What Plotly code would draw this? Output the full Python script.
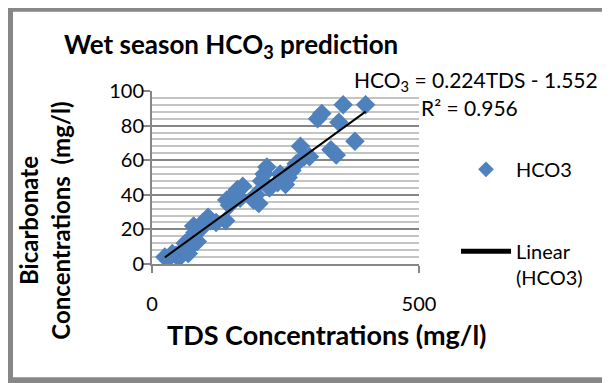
import plotly.graph_objects as go

# ---- data ----
tds = [24, 30, 38, 45, 52, 58, 62, 68, 72, 75, 80, 78, 85, 90, 95, 105, 110, 120,
       138, 140, 145, 152, 160, 165, 170, 190, 195, 200, 205, 210, 215, 220, 235,
       240, 250, 255, 262, 270, 278, 285, 295, 310, 318, 335, 345, 350, 358, 380, 400]
hco3 = [4, 3, 6, 5, 4, 8, 12, 6, 10, 15, 18, 22, 13, 20, 24, 27, 25, 24,
        25, 37, 34, 40, 43, 38, 45, 37, 40, 35, 48, 52, 56, 44, 47,
        52, 46, 50, 54, 58, 68, 62, 62, 84, 87, 66, 63, 82, 92, 71, 92]
slope = 0.224
intercept = -1.552
r2 = 0.956
y_ticks = [0, 20, 40, 60, 80, 100]
x_ticks = [0, 500]

FONT = "Lato"
# the page body has an 8px margin; lay out in reference pixel coordinates
OFF = 8
X0, X1 = 152, 419        # reference x pixels of x=0 and x=500
Y0, Y1 = 264.5, 91       # reference y pixels of y=0 and y=100
W, H = 610 - OFF, 383 - OFF
pw = X1 - X0
ph = Y0 - Y1
L, T = X0 - OFF, Y1 - OFF
R, B = W - L - pw, H - T - ph


def px(x):
    return (x - X0) / pw


def py(y):
    return (Y0 - y) / ph


fit_x = [min(tds), max(tds)]
fit_y = [slope * v + intercept for v in fit_x]

fig = go.Figure()
fig.add_trace(go.Scatter(
    x=tds, y=hco3, mode="markers", name="HCO3", legendgroup="a",
    marker=dict(symbol="diamond", size=15, color="#4F81BD", line=dict(width=0)),
))
fig.add_trace(go.Scatter(
    x=fit_x, y=fit_y, mode="lines", name="Linear<br>(HCO3)", legendgroup="b",
    line=dict(color="black", width=2),
))

fig.update_layout(
    width=W, height=H,
    margin=dict(l=L, r=R, t=T, b=B, pad=0, autoexpand=False),
    paper_bgcolor="white", plot_bgcolor="white",
    font=dict(family=FONT, size=20, color="black"),
    showlegend=True,
    legend=dict(
        x=px(456), y=py(150), xanchor="left", yanchor="top",
        traceorder="grouped", tracegroupgap=53, itemwidth=50,
        valign="top", itemsizing="constant",
        font=dict(family=FONT, size=20, color="black"),
        bgcolor="rgba(0,0,0,0)",
    ),
    xaxis=dict(
        range=[0, 500], tickvals=x_ticks, ticktext=[str(v) for v in x_ticks],
        showgrid=False, zeroline=False,
        showline=True, linecolor="#868686", linewidth=2,
        ticks="outside", ticklen=7, tickwidth=2, tickcolor="#868686",
        ticklabelstandoff=14,
        tickfont=dict(family=FONT, size=20),
        fixedrange=True,
    ),
    yaxis=dict(
        range=[0, 100], tickvals=y_ticks, ticktext=[str(v) for v in y_ticks],
        showgrid=True, gridcolor="#868686", gridwidth=2,
        zeroline=False,
        showline=True, linecolor="#868686", linewidth=2,
        ticks="outside", ticklen=8, tickwidth=2, tickcolor="#868686",
        ticklabelstandoff=-6,
        tickfont=dict(family=FONT, size=20),
        minor=dict(dtick=4, showgrid=True, gridcolor="#c4c4c4", gridwidth=2,
                   ticks="", ticklen=0),
        fixedrange=True,
    ),
)

# outer chart border
fig.add_shape(type="rect", xref="paper", yref="paper",
              x0=px(10), x1=px(650), y0=py(381), y1=py(8.5),
              line=dict(color="#878787", width=6), layer="below")

anns = [
    dict(text="<b>Wet season HCO<sub>3</sub> prediction</b>", x=px(62), y=py(45),
         xanchor="left", yanchor="middle", size=26),
    dict(text="HCO<sub>3</sub> = 0.224TDS - 1.552", x=px(352), y=py(81),
         xanchor="left", yanchor="middle", size=21),
    dict(text="R² = %.3f" % r2, x=px(419), y=py(108),
         xanchor="left", yanchor="middle", size=21),
    dict(text="<b>TDS Concentrations (mg/l)</b>", x=px(327), y=py(335),
         xanchor="center", yanchor="middle", size=27),
    dict(text="<b>Bicarbonate<br>Concentrations  (mg/l)</b>", x=px(44), y=py(221),
         xanchor="center", yanchor="middle", textangle=-90, size=24),
]
for a in anns:
    size = a.pop("size")
    fig.add_annotation(xref="paper", yref="paper", showarrow=False,
                       font=dict(family=FONT, size=size, color="black"), **a)

fig.write_html("out.html")
